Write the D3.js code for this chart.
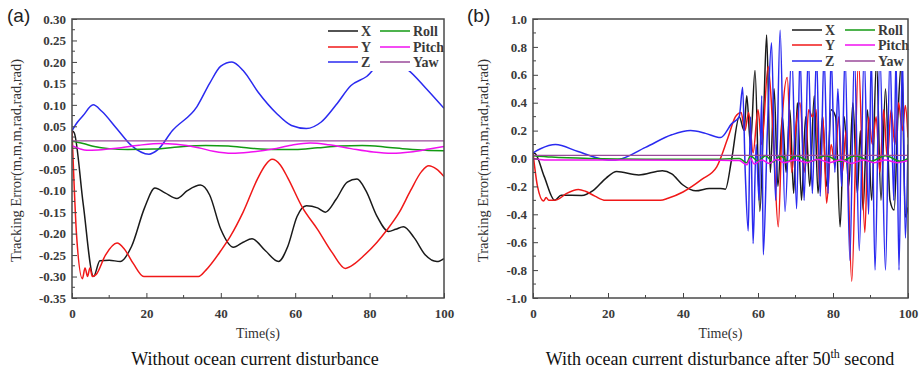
<!DOCTYPE html>
<html>
<head>
<meta charset="utf-8">
<script src="https://cdn.jsdelivr.net/npm/d3@7"></script>
<style>
  body { margin: 0; background: #fff; }
  svg { display: block; }
</style>
</head>
<body>
<div id="chart"></div>
<script>
// ---- data: [time, value] pairs ----
// panel (a) without ocean current disturbance
var xA = [[0,0.04],[0.6,0.035],[3,-0.13],[5.8,-0.30],[7.5,-0.263],[10,-0.262],[13,-0.265],[16,-0.23],[19.5,-0.14],[22.3,-0.094],[25,-0.105],[28.2,-0.118],[31,-0.10],[34.5,-0.087],[37,-0.11],[40,-0.19],[43.4,-0.232],[46,-0.22],[48.4,-0.212],[52,-0.24],[55.5,-0.265],[58,-0.23],[60.5,-0.16],[63,-0.135],[66,-0.14],[68.1,-0.150],[71,-0.12],[74,-0.08],[76.6,-0.073],[79,-0.10],[82,-0.16],[85.1,-0.195],[87,-0.19],[89.1,-0.184],[92,-0.21],[95,-0.25],[98.1,-0.265],[100,-0.258]];
var yA = [[0,0.04],[0.4,-0.05],[1.2,-0.2],[2.8,-0.305],[3.5,-0.28],[4.2,-0.30],[4.8,-0.28],[5.5,-0.30],[6.5,-0.295],[9,-0.25],[12.1,-0.222],[14,-0.235],[16.5,-0.27],[19.3,-0.30],[34,-0.30],[36,-0.285],[40,-0.24],[42.6,-0.206],[46,-0.15],[50,-0.07],[52,-0.04],[53.8,-0.027],[56,-0.04],[58,-0.07],[62,-0.14],[66,-0.19],[70,-0.245],[73.5,-0.281],[76,-0.27],[78,-0.255],[82,-0.22],[84.7,-0.191],[88,-0.15],[91,-0.10],[94,-0.055],[95.9,-0.042],[98,-0.05],[100,-0.067]];
var zA = [[0,0.04],[1.5,0.06],[3,0.075],[5.7,0.10],[8,0.085],[12,0.045],[16,0.005],[20.7,-0.015],[23,-0.005],[27,0.04],[33.6,0.096],[37,0.15],[40,0.19],[43,0.20],[46,0.18],[50,0.13],[55,0.08],[59,0.052],[63,0.045],[67,0.06],[71,0.10],[75,0.145],[79.2,0.166],[84,0.205],[87,0.198],[90.4,0.181],[95,0.14],[100,0.092]];
var rollA = [[0,0.015],[3,0.01],[6,0.003],[10,-0.002],[15,-0.004],[22,-0.003],[30,0.003],[36,0.005],[42,0.004],[48,-0.001],[55,-0.004],[60,-0.004],[66,0.0],[72,0.004],[78,0.005],[84,0.002],[90,-0.003],[95,-0.006],[100,-0.007]];
var pitchA = [[0,0.005],[2,-0.002],[4,-0.006],[7,-0.005],[12,-0.001],[18,0.006],[24,0.01],[28,0.008],[34,0.0],[38,-0.008],[43,-0.013],[48,-0.01],[54,-0.003],[59,0.006],[64,0.011],[69,0.007],[75,-0.002],[81,-0.01],[86,-0.013],[91,-0.01],[96,-0.003],[100,0.003]];
var yawA = [[0,0.016],[100,0.016]];

// panel (b) with ocean current disturbance after 50 s
var xB = [[0,0.04],[0.6,0.035],[3,-0.13],[5.8,-0.30],[7.5,-0.263],[13,-0.265],[16,-0.23],[19.5,-0.14],[22.3,-0.094],[28.2,-0.118],[34.5,-0.087],[37,-0.11],[40,-0.19],[43.4,-0.232],[47,-0.215],[50,-0.215],[51.3,-0.22],[53,0.0],[55,0.30],[56.3,0.2],[57,0.45],[58,0.1],[59.2,0.63],[60.5,-0.38],[61.5,0.3],[62.3,0.885],[63.3,-0.1],[64.3,0.5],[65.3,-0.2],[66.5,0.3],[67.5,-0.1],[68.5,0.35],[69.5,-0.25],[70.5,0.4],[71.6,-0.30],[72.7,0.3],[73.8,-0.2],[75,0.45],[76,-0.25],[77.2,0.3],[78.3,-0.2],[79.5,0.35],[80.7,0.3],[81.9,-0.49],[83,0.3],[84.2,-0.2],[85.3,0.4],[86.5,-0.25],[87.3,0.2],[88,-0.37],[89.2,0.35],[90.3,-0.3],[91.6,0.7],[92.8,-0.3],[94,0.5],[95.2,-0.3],[96.3,-0.37],[97.3,0.3],[98.3,0.7],[99.3,-0.42],[100,-0.35]];
var yB = [[0,0.04],[0.4,-0.05],[1.2,-0.2],[2.8,-0.305],[3.5,-0.28],[4.2,-0.30],[5.5,-0.30],[6.5,-0.295],[9,-0.25],[12.1,-0.222],[14,-0.235],[16.5,-0.27],[19.3,-0.30],[34,-0.30],[36,-0.285],[40,-0.24],[45,-0.15],[49,-0.06],[52,0.15],[54,0.30],[55.5,0.33],[56.5,0.2],[57.5,0.33],[58.7,0.04],[60,0.35],[61,0.1],[62.7,0.66],[64,0.2],[65.4,-0.49],[66.5,0.3],[67.8,0.58],[69,-0.1],[70,0.2],[71.2,0.40],[72.5,-0.1],[73.5,0.35],[74.5,0.3],[75.5,0.35],[76.5,-0.2],[77.3,0.3],[78.3,-0.32],[79.5,0.1],[80.5,-0.05],[81.5,0.3],[82.5,-0.1],[83.5,0.2],[85,-0.88],[86.8,0.7],[88.5,-0.53],[89.5,0.3],[90.5,0.1],[91.5,0.3],[92.5,-0.1],[93.5,0.35],[94.5,0.0],[95.5,0.35],[96.5,0.1],[97.5,0.4],[98.5,0.2],[99.3,0.38],[100,0.15]];
var zB = [[0,0.04],[2,0.07],[6,0.10],[12,0.05],[20,-0.01],[22,-0.01],[30,0.08],[37,0.17],[42,0.20],[46,0.18],[50,0.15],[53,0.25],[55,0.30],[55.9,0.51],[56.6,-0.1],[57.4,-0.52],[58,0.3],[58.7,-0.61],[59.5,0.1],[60.3,-0.3],[61,0.45],[61.4,-0.69],[62.5,0.2],[63.6,0.83],[64.7,-0.3],[65.9,0.92],[67.2,-0.38],[69,0.75],[70.3,-0.36],[71.2,0.75],[72.3,-0.3],[73.4,0.75],[74.5,-0.25],[75.6,0.75],[76.6,-0.27],[77.6,0.75],[78.7,-0.25],[79.5,0.75],[80.5,-0.1],[81.3,0.5],[82.3,-0.2],[83.2,0.75],[84.5,-0.73],[85.7,0.75],[87,-0.66],[88.3,0.75],[89.5,-0.4],[90.2,0.75],[91.2,-0.80],[92.5,0.75],[94.0,-0.80],[95.2,0.75],[96.2,-0.3],[96.8,0.75],[97.6,-0.80],[98.5,0.75],[99.3,-0.57],[100,0.1]];
var rollB = [[0,0.02],[5,0.01],[15,0.0],[30,-0.005],[50,-0.005],[55,0.0],[57,-0.03],[58,0.02],[60,-0.02],[62,0.02],[64,-0.025],[66,0.02],[68,-0.02],[70,0.02],[74,-0.02],[78,0.02],[82,-0.02],[86,0.02],[90,-0.02],[94,0.02],[98,-0.02],[100,0.0]];
var pitchB = [[0,0.0],[3,-0.01],[20,-0.01],[50,-0.012],[55,-0.015],[57,-0.045],[58,0.0],[59,-0.04],[61,-0.01],[63,-0.035],[65,-0.005],[67,-0.03],[70,-0.01],[73,-0.03],[76,-0.005],[79,-0.03],[82,-0.01],[85,-0.035],[88,-0.01],[91,-0.03],[94,-0.01],[97,-0.03],[100,-0.015]];
var yawB = [[0,0.022],[100,0.022]];

// legend / series names
var names = ["X", "Y", "Z", "Roll", "Pitch", "Yaw"];
var colors = ["#1a1a1a", "#f01818", "#2a2af0", "#139a13", "#f010f0", "#9a4a9a"];

// ticks
var xTicks = [0, 20, 40, 60, 80, 100];
var yTicksA = [-0.35, -0.30, -0.25, -0.20, -0.15, -0.10, -0.05, 0.00, 0.05, 0.10, 0.15, 0.20, 0.25, 0.30];
var yTicksB = [-1.0, -0.8, -0.6, -0.4, -0.2, 0.0, 0.2, 0.4, 0.6, 0.8, 1.0];

function init() {
    var width = 922;
    var height = 370;
    var serif = "'Liberation Serif', 'Times New Roman', serif";

    var svg = d3.select("#chart")
        .append("svg")
        .attr("width", width)
        .attr("height", height);

    var panels = [
        { id: "a", tag: "(a)", tagX: 7, x0: 72, x1: 444, y0: 19, y1: 298,
          dom: [-0.35, 0.30], ticks: yTicksA, digits: 2,
          series: [xA, yA, zA, rollA, pitchA, yawA], ylabX: 16,
          leg: { x: 325, lx: 328, rx: 380, rows: [31, 47, 62], h: 51 },
          caption: "Without ocean current disturbance" },
        { id: "b", tag: "(b)", tagX: 467, x0: 533, x1: 908, y0: 19, y1: 298,
          dom: [-1, 1], ticks: yTicksB, digits: 1,
          series: [xB, yB, zB, rollB, pitchB, yawB], ylabX: 483,
          leg: { x: 788, lx: 792, rx: 845, rows: [30, 45, 61], h: 51 },
          caption: null }
    ];

    panels.forEach(function (p) {
        var x = d3.scaleLinear().domain([0, 100]).range([p.x0, p.x1]);
        var y = d3.scaleLinear().domain(p.dom).range([p.y1, p.y0]);
        var g = svg.append("g");

        g.append("clipPath").attr("id", "clip" + p.id)
            .append("rect")
            .attr("x", p.x0).attr("y", p.y0)
            .attr("width", p.x1 - p.x0).attr("height", p.y1 - p.y0);

        // lines
        var line = d3.line()
            .x(function (d) { return x(d[0]); })
            .y(function (d) { return y(d[1]); })
            .curve(d3.curveMonotoneX);

        g.append("g").attr("clip-path", "url(#clip" + p.id + ")")
            .selectAll("path")
            .data(p.series)
            .enter()
            .append("path")
            .attr("d", line)
            .attr("fill", "none")
            .attr("stroke", function (d, i) { return colors[i]; })
            .attr("stroke-width", function (d, i) { return i == 5 ? 1.2 : 1.5; });

        // minor ticks
        var step = p.ticks[1] - p.ticks[0];
        var minorY = p.ticks.slice(1).map(function (t) { return t - step / 2; });
        g.selectAll(".my").data(minorY).enter().append("line")
            .attr("x1", p.x0).attr("x2", p.x0 + 3)
            .attr("y1", y).attr("y2", y)
            .attr("stroke", "#444");
        var minorX = xTicks.slice(1).map(function (t) { return t - 10; });
        g.selectAll(".mx").data(minorX).enter().append("line")
            .attr("x1", x).attr("x2", x)
            .attr("y1", p.y1).attr("y2", p.y1 - 3)
            .attr("stroke", "#444");

        // axes
        var yAxis = d3.axisLeft(y)
            .tickValues(p.ticks)
            .tickSize(-5)
            .tickPadding(6)
            .tickFormat(function (d) { return d.toFixed(p.digits); });
        var ya = g.append("g")
            .attr("transform", "translate(" + p.x0 + ",0)")
            .call(yAxis);

        var xAxis = d3.axisBottom(x)
            .tickValues(xTicks)
            .tickSize(-5)
            .tickPadding(11)
            .tickFormat(d3.format("d"));
        var xa = g.append("g")
            .attr("transform", "translate(0," + p.y1 + ")")
            .call(xAxis);

        [ya, xa].forEach(function (a) {
            a.select(".domain").remove();
            a.selectAll("line").attr("stroke", "#444");
            a.selectAll("text")
                .style("font-family", serif)
                .style("font-size", "13px")
                .style("font-weight", "bold")
                .attr("fill", "#3a3a3a");
        });

        // legend with white box
        var L = p.leg;
        g.append("rect")
            .attr("x", L.x).attr("y", p.y0 + 1)
            .attr("width", p.x1 - L.x - 1).attr("height", L.h)
            .attr("fill", "#fff");
        names.forEach(function (n, i) {
            var col = Math.floor(i / 3), row = i % 3;
            var lx = col == 0 ? L.lx : L.rx;
            var ly = L.rows[row];
            g.append("line")
                .attr("x1", lx).attr("x2", lx + 30)
                .attr("y1", ly).attr("y2", ly)
                .attr("stroke", colors[i])
                .attr("stroke-width", 1.5);
            g.append("text")
                .attr("x", lx + 33).attr("y", ly + 5)
                .text(n)
                .style("font-family", serif)
                .style("font-size", "14px")
                .style("font-weight", "bold")
                .attr("fill", "#3a3a3a");
        });

        // frame
        g.append("rect")
            .attr("x", p.x0).attr("y", p.y0)
            .attr("width", p.x1 - p.x0).attr("height", p.y1 - p.y0)
            .attr("fill", "none")
            .attr("stroke", "#4a4a4a")
            .attr("stroke-width", 1.5);

        // labels
        g.append("text")
            .attr("x", p.tagX).attr("y", 22)
            .text(p.tag)
            .style("font-family", "'Liberation Sans', Arial, sans-serif")
            .style("font-size", "19px")
            .attr("fill", "#222");

        g.append("text")
            .attr("transform", "translate(" + (p.ylabX + 5) + "," + ((p.y0 + p.y1) / 2 + 2) + ") rotate(-90)")
            .attr("text-anchor", "middle")
            .text("Tracking Error(m,m,m,rad,rad,rad)")
            .style("font-family", serif)
            .style("font-size", "14.5px")
            .attr("fill", "#333");

        g.append("text")
            .attr("x", (p.x0 + p.x1) / 2).attr("y", 338)
            .attr("text-anchor", "middle")
            .text("Time(s)")
            .style("font-family", serif)
            .style("font-size", "14px")
            .attr("fill", "#333");

        var cap = g.append("text")
            .attr("x", p.id == "a" ? 255 : 720).attr("y", 365)
            .attr("text-anchor", "middle")
            .style("font-family", serif)
            .style("font-size", "18px")
            .attr("fill", "#111");
        if (p.caption) {
            cap.text(p.caption);
        } else {
            cap.append("tspan").text("With ocean current disturbance after 50");
            cap.append("tspan").attr("dy", -7).style("font-size", "12px").text("th");
            cap.append("tspan").attr("dy", 7).text(" second");
        }
    });
}

window.onload = init;
</script>
</body>
</html>
